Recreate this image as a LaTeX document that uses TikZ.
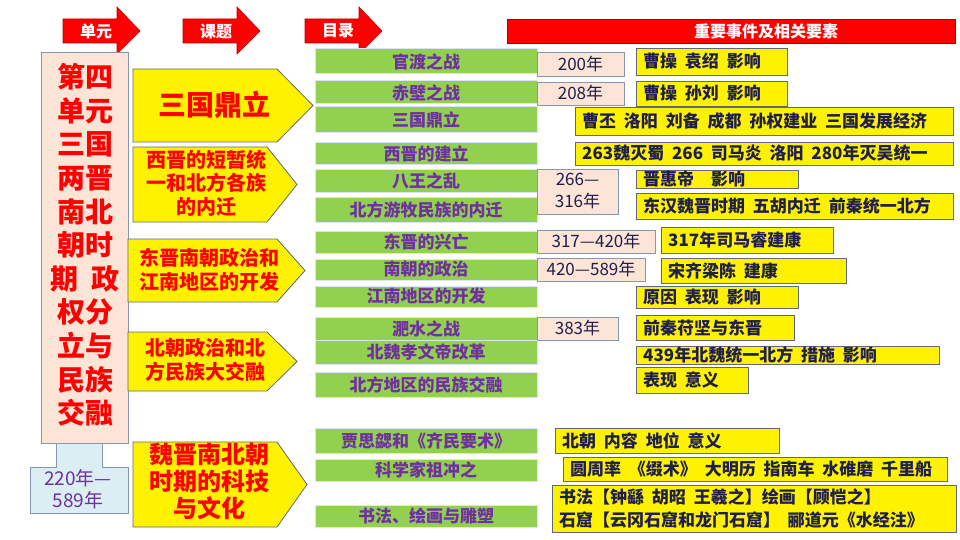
\documentclass[tikz,border=0pt]{standalone}
\usepackage{fontspec}
\setmainfont{Noto Sans CJK SC}[WordSpace=2]
\usepackage{tikz}

\definecolor{barGreen}{HTML}{92D050}
\definecolor{barText}{HTML}{7030A0}
\definecolor{datePeach}{HTML}{FCE4D6}
\definecolor{boxEdge}{HTML}{8497B0}
\definecolor{elemText}{HTML}{1F1F4F}
\definecolor{spanBlue}{HTML}{DAEEF3}

\tikzset{
    headarrow/.style={fill=red, draw=red!70!black, line width=0.6pt},
    headtext/.style={text=white, font={\bfseries\fontsize{16}{16}\selectfont}, inner sep=0pt},
    topicshape/.style={fill=yellow, draw=boxEdge!70!black, line width=0.8pt},
    topictext/.style={text=red, font={\bfseries\fontsize{20}{23.5}\selectfont}, align=center, inner sep=0pt},
    barbox/.style={fill=barGreen, draw=blue!12, line width=1pt, inner sep=0pt, minimum width=222pt,
        text=barText, font={\bfseries\fontsize{17}{17}\selectfont}},
    datebox/.style={fill=datePeach, draw=boxEdge, line width=0.8pt, inner sep=0pt,
        text=elemText, font={\fontsize{17}{22}\selectfont}, align=center},
    elembox/.style={fill=yellow, draw=boxEdge!70!black, line width=0.8pt},
    elemtext/.style={text=elemText, font={\bfseries\fontsize{17}{24}\selectfont}, anchor=west, inner sep=0pt, align=left}
}

\begin{document}
\begin{tikzpicture}[x=1pt,y=-1pt]
            \fill[white] (0,0) rectangle (960,540);
            \useasboundingbox (0,0) rectangle (960,540);

            % column heads
            \foreach \nm/\xa/\txt in {unithead/63/单元, topichead/183/课题, cathead/305/目录}{
                \draw[headarrow] (\xa,19) -- (\xa+54,19) -- (\xa+54,7) -- (\xa+77,31)
                    -- (\xa+54,54) -- (\xa+54,43) -- (\xa,43) -- cycle;
                \node[headtext] (\nm) at (\xa+33,31) {\txt};
            }
            \draw[headarrow] (507,19) rectangle (955,43);
            \node[headtext] (eventhead) at (766,31) {重要事件及相关要素};

            % unit
            \draw[fill=datePeach, draw=boxEdge, line width=0.8pt] (41,52) rectangle (128,443);
            \node[text=red, font={\bfseries\fontsize{28}{33.6}\selectfont}, align=center, inner sep=0pt] (unit) at (85,245)
                {第四\\单元\\三国\\两晋\\南北\\朝时\\期 政\\权分\\立与\\民族\\交融};
            \draw[fill=spanBlue, draw=boxEdge, line width=0.8pt] (56,443) -- (102,443) -- (102,467) -- (128,467)
                -- (128,513) -- (30,513) -- (30,467) -- (56,467) -- cycle;
            \node[text=barText, font={\fontsize{19}{22}\selectfont}, align=center, inner sep=0pt] (span) at (78,489)
                {220年—\\589年};

            % topics
            \draw[topicshape] (133,69) -- (277,69) -- (313,105.5) -- (277,142) -- (133,142) -- cycle;
            \node[topictext, font={\bfseries\fontsize{28}{28}\selectfont}] (sanguo) at (214,105) {三国鼎立};
            \draw[topicshape] (133,147) -- (267,147) -- (297,184.5) -- (267,222) -- (133,222) -- cycle;
            \node[topictext] (xijin) at (206,183) {西晋的短暂统\\一和北方各族\\的内迁};
            \draw[topicshape] (128,239) -- (277,239) -- (305,270.5) -- (277,302) -- (128,302) -- cycle;
            \node[topictext] (dongjin) at (209,270) {东晋南朝政治和\\江南地区的开发};
            \draw[topicshape] (128,332) -- (267,332) -- (297,361.5) -- (267,391) -- (128,391) -- cycle;
            \node[topictext] (beichao) at (205,360) {北朝政治和北\\方民族大交融};
            \draw[topicshape] (133,442) -- (277,442) -- (307,484.5) -- (277,527) -- (133,527) -- cycle;
            \node[topictext, font={\bfseries\fontsize{24}{27}\selectfont}] (wenhua) at (209,481) {魏晋南北朝\\时期的科技\\与文化};

            % catalogue
            \foreach \nm/\yc/\h/\txt in {
                    guandu/61.5/25/官渡之战, chibi/92.5/23/赤壁之战, dingli/120/26/三国鼎立,
                    jianli/154/22/西晋的建立, bawang/181/22/八王之乱, neiqian/209.5/25/北方游牧民族的内迁,
                    xingwang/242/22/东晋的兴亡, zhengzhi/269.5/21/南朝的政治, jiangnan/296.5/21/江南地区的开发,
                    feishui/328.5/23/淝水之战, gaige/352/24/北魏孝文帝改革, jiaorong/384.5/25/北方地区的民族交融,
                    jiasixie/440.5/25/贾思勰和《齐民要术》, zuchongzhi/470/22/科学家祖冲之, shufa/516/22/书法、绘画与雕塑}{
                \node[barbox, minimum height=\h] (\nm) at (426,\yc) {\txt};
            }

            % dates
            \foreach \nm/\xc/\yc/\w/\h/\txt in {
                    d200/580.5/64/87/24/200年, d208/580.5/93.5/87/23/208年,
                    d266/577.5/191.5/81/45/{266—\\316年}, d317/596/241.5/118/23/317—420年,
                    d420/591/269.5/108/23/420—589年, d383/577.5/328.5/81/23/383年}{
                \node[datebox, minimum width=\w, minimum height=\h] (\nm) at (\xc,\yc) {\txt};
            }

            % events and elements
            \foreach \nm/\xa/\ya/\xb/\yb/\txt in {
                    guanduev/636/48/787/75/曹操 袁绍 影响,
                    chibiev/636/81/787/106/曹操 孙刘 影响,
                    dingliev/575/107/953/135/曹丕 洛阳 刘备 成都 孙权建业 三国发展经济,
                    jianliev/575/142/953/165/263魏灭蜀 266 司马炎 洛阳 280年灭吴统一,
                    bawangev/636/170/798/188/晋惠帝\quad 影响,
                    neiqianev/636/193/953/219/东汉魏晋时期 五胡内迁 前秦统一北方,
                    xingwangev/661/227/833/253/317年司马睿建康,
                    zhengzhiev/661/258/846/283/宋齐梁陈 建康,
                    jiangnanev/636/286/798/308/原因 表现 影响,
                    feishuiev/636/315/794/340/前秦苻坚与东晋,
                    gaigeev/636/346/939/364/439年北魏统一北方 措施 影响,
                    jiaorongev/636/367/748/393/表现 意义,
                    jiasixieev/555/428/779/453/北朝 内容 地位 意义,
                    zuchongzhiev/563/457/947/481/圆周率 《缀术》 大明历 指南车 水碓磨 千里船,
                    shufaev/552/485/956/532/{书法【钟繇 胡昭 王羲之】绘画【顾恺之】\\石窟【云冈石窟和龙门石窟】 郦道元《水经注》}}{
                \draw[elembox] (\xa,\ya) rectangle (\xb,\yb);
                \node[elemtext] (\nm) at ({\xa+7},{(\ya+\yb)/2}) {\txt};
            }
\end{tikzpicture}
\end{document}
